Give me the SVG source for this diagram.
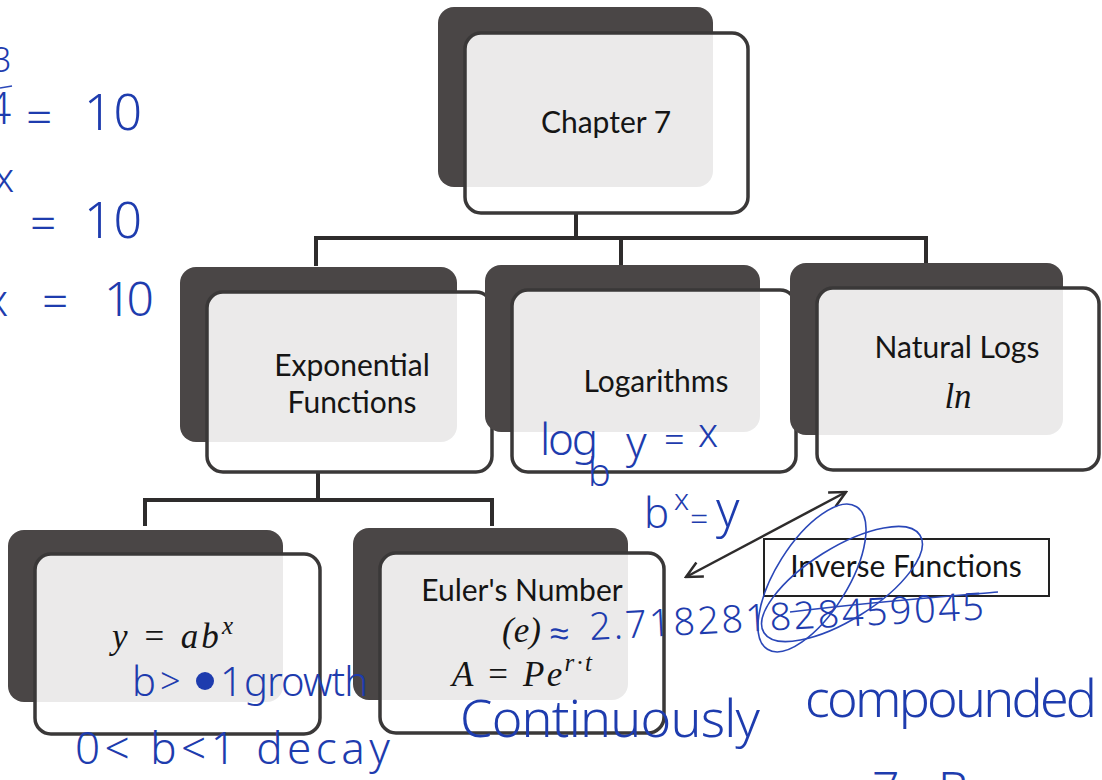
<svg xmlns="http://www.w3.org/2000/svg" width="1102" height="780" viewBox="0 0 1102 780">
<defs>
<style>
.back{fill:#4a4646;}
.front{fill:#ffffff;fill-opacity:0.89;stroke:#3a3838;stroke-width:3.5;}
.lbl{font-family:Lato,"Open Sans","Liberation Sans",sans-serif;font-size:30px;fill:#151515;text-anchor:middle;}
.math{font-family:"Liberation Serif","DejaVu Serif",serif;font-style:italic;font-size:35px;fill:#151515;}
.conn{fill:none;stroke:#2e2c2c;stroke-width:4;}
.hw{font-family:"Noto Sans","DejaVu Sans",sans-serif;font-weight:300;fill:#1e3cae;}
.hwl{fill:none;stroke:#2a47b8;stroke-width:1.6;}
</style>
<marker id="chev" viewBox="0 0 20 20" refX="18" refY="10" markerWidth="20" markerHeight="20" markerUnits="userSpaceOnUse" orient="auto-start-reverse">
<path d="M2,2 L18,10 L2,18" fill="none" stroke="#2e2c2c" stroke-width="2.5"/>
</marker>
</defs>
<rect width="1102" height="780" fill="#ffffff"/>

<g id="connectors">
<path class="conn" d="M576,213 V238"/>
<path class="conn" d="M316,266 V238 H926 V263"/>
<path class="conn" d="M621,238 V266"/>
<path class="conn" d="M318,472 V500"/>
<path class="conn" d="M145,526 V500 H492 V526"/>
<line x1="686" y1="577" x2="846" y2="492" stroke="#2e2c2c" stroke-width="2.5" marker-start="url(#chev)" marker-end="url(#chev)"/>
</g>

<g id="chapter7">
<rect class="back" x="438" y="7" width="275" height="180" rx="16"/>
<rect class="front" x="465" y="33" width="283" height="180" rx="16"/>
<text class="lbl" x="606" y="133" font-size="33">Chapter 7</text>
</g>

<g id="exponential">
<rect class="back" x="180" y="267" width="277" height="175" rx="16"/>
<rect class="front" x="207" y="292" width="285" height="180" rx="16"/>
<text class="lbl" x="352" y="376">Exponential</text>
<text class="lbl" x="352" y="413">Functions</text>
</g>

<g id="logarithms">
<rect class="back" x="485" y="265" width="275" height="167" rx="16"/>
<rect class="front" x="512" y="290" width="284" height="182" rx="16"/>
<text class="lbl" x="656" y="392">Logarithms</text>
</g>

<g id="natural-logs">
<rect class="back" x="790" y="263" width="273" height="172" rx="16"/>
<rect class="front" x="817" y="288" width="282" height="182" rx="16"/>
<text class="lbl" x="957" y="358">Natural Logs</text>
<text class="math" x="958" y="408" text-anchor="middle" font-size="34">ln</text>
</g>

<g id="exp-form">
<rect class="back" x="8" y="530" width="275" height="172" rx="16"/>
<rect class="front" x="35" y="554" width="285" height="180" rx="16"/>
<text class="math" x="112" y="648" textLength="121">y = ab<tspan dy="-14" font-size="25">x</tspan></text>
</g>

<g id="euler">
<rect class="back" x="353" y="528" width="275" height="172" rx="16"/>
<rect class="front" x="380" y="553" width="284" height="180" rx="16"/>
<text class="lbl" x="522" y="601">Euler's Number</text>
<text class="math" x="502" y="642">(e)</text>
<text class="math" x="452" y="686" textLength="140">A = Pe<tspan dy="-15" font-size="25">r·t</tspan></text>
</g>

<g id="inverse-functions">
<rect x="764" y="539" width="285" height="57" fill="#ffffff" stroke="#222" stroke-width="2"/>
<text class="lbl" x="906" y="577" font-size="24">Inverse Functions</text>
</g>

<g id="handwriting">
<text class="hw" x="-8" y="72" font-size="34">3</text>
<line class="hwl" x1="0" y1="88" x2="12" y2="86"/>
<text class="hw" x="-14" y="124" font-size="44">4</text>
<text class="hw" x="26" y="134" font-size="46">=</text>
<text class="hw" x="84" y="130" font-size="50" textLength="58">10</text>
<text class="hw" x="-6" y="192" font-size="40">x</text>
<text class="hw" x="30" y="240" font-size="46">=</text>
<text class="hw" x="84" y="238" font-size="50" textLength="58">10</text>
<text class="hw" x="-14" y="316" font-size="44">x</text>
<text class="hw" x="42" y="318" font-size="46">=</text>
<text class="hw" x="104" y="316" font-size="48" textLength="50">10</text>

<text class="hw" x="540" y="455" font-size="44" textLength="58">log</text>
<text class="hw" x="588" y="486" font-size="38">b</text>
<text class="hw" x="626" y="458" font-size="44">y</text>
<text class="hw" x="664" y="452" font-size="36">=</text>
<text class="hw" x="698" y="447" font-size="40">x</text>

<text class="hw" x="644" y="528" font-size="42">b</text>
<text class="hw" x="674" y="510" font-size="30">x</text>
<text class="hw" x="690" y="530" font-size="32">=</text>
<text class="hw" x="716" y="527" font-size="50">y</text>

<text class="hw" x="132" y="696" font-size="40">b</text>
<text class="hw" x="160" y="694" font-size="36">&gt;</text>
<circle cx="205" cy="681" r="9" fill="#1e3cae"/>
<text class="hw" x="220" y="696" font-size="40">1</text>
<text class="hw" x="244" y="696" font-size="40" textLength="124">growth</text>

<text class="hw" x="75" y="764" font-size="44" textLength="315">0&lt; b&lt;1 decay</text>

<text class="hw" x="550" y="645" font-size="34">≈</text>
<text class="hw" x="590" y="640" font-size="38" textLength="395" transform="rotate(-3 590 640)">2.718281828459045</text>

<text class="hw" x="460" y="737" font-size="52" textLength="300">Continuously</text>
<text class="hw" x="805" y="717" font-size="52" textLength="292">compounded</text>

<text class="hw" x="872" y="806" font-size="48">7</text>
<text class="hw" x="938" y="806" font-size="48">B</text>

<ellipse class="hwl" cx="812" cy="578" rx="84" ry="36" transform="rotate(-58 812 578)"/>
<ellipse class="hwl" cx="842" cy="584" rx="92" ry="36" transform="rotate(-32 842 584)"/>
<path class="hwl" d="M790,612 C870,602 950,596 998,592"/>
</g>
</svg>
